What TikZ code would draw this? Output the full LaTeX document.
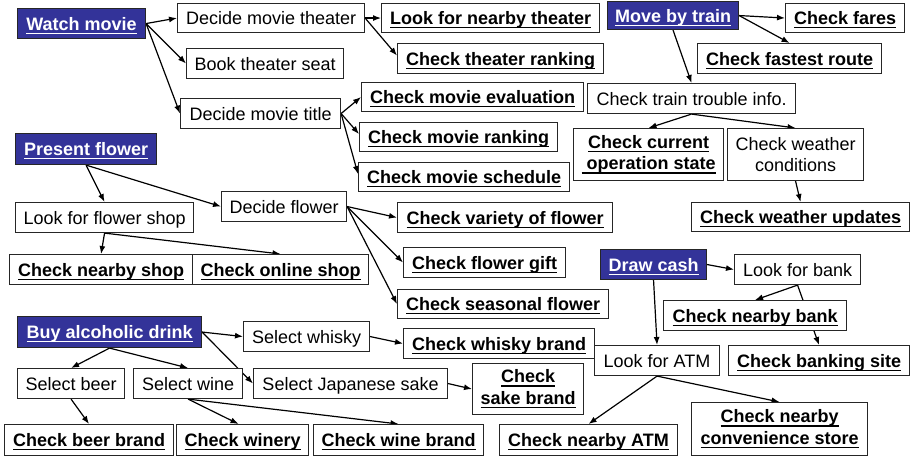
\documentclass[tikz,border=0pt]{standalone}
\usepackage{fontspec}
\setmainfont{Liberation Sans}
\usetikzlibrary{arrows.meta,backgrounds}
\definecolor{taskblue}{RGB}{51,51,153}

% underline with a fixed offset below the baseline
\newcommand\uln[1]{\setbox0=\hbox{#1}\rlap{\rule[-3.8pt]{\wd0}{1.3pt}}\box0}
% box placed by its top-left and bottom-right corners
\newcommand\bx[7]{\node[#1, minimum width={(#5)-(#3)}, minimum height={(#6)-(#4)}] (#2) at (#3,#4) {#7};}

\tikzset{
  base/.style={draw=black!85, line width=1.1pt, inner sep=0pt, anchor=north west,
               align=center, font=\fontsize{18}{21.5}\selectfont},
  one/.style={text height=15.5pt, text depth=2.5pt},
  plain/.style={base, fill=white},
  check/.style={base, fill=white, font=\fontsize{18}{21.5}\selectfont\bfseries},
  goal/.style={base, fill=taskblue, text=white, font=\fontsize{18}{21.5}\selectfont\bfseries},
  link/.style={line width=1.2pt, -{Latex[length=8pt,width=6pt]}},
}

\begin{document}
\begin{tikzpicture}[x=1pt, y=-1pt]
\useasboundingbox (0,0) rectangle (910,457);

% ---- watch movie
\bx{goal,one}{wm}{17}{8}{145}{38}{\uln{Watch movie}}
\bx{plain,one}{dmt}{177}{3}{364}{32}{Decide movie theater}
\bx{plain,one}{bts}{186}{48}{343}{78}{Book theater seat}
\bx{plain,one}{dmtl}{180}{98}{340}{128}{Decide movie title}
\bx{check,one}{lfnt}{381}{3}{599}{32}{\uln{Look for nearby theater}}
\bx{check,one}{ctr}{397}{43}{603}{73}{\uln{Check theater ranking}}
\bx{check,one}{cme}{361}{82}{583}{111}{\uln{Check movie evaluation}}
\bx{check,one}{cmr}{359}{122}{557}{151}{\uln{Check movie ranking}}
\bx{check,one}{cms}{358}{162}{569}{191}{\uln{Check movie schedule}}

% ---- present flower
\bx{goal,one}{pf}{15}{133}{156}{164}{\uln{Present flower}}
\bx{plain,one}{lffs}{15}{202}{193}{232}{Look for flower shop}
\bx{plain,one}{df}{221}{191}{346}{221}{Decide flower}
\bx{check,one}{cns}{9}{254}{192}{284}{\uln{Check nearby shop}}
\bx{check,one}{cos}{192}{254}{368}{284}{\uln{Check online shop}}
\bx{check,one}{cvf}{397}{202}{612}{232}{\uln{Check variety of flower}}
\bx{check,one}{cfg}{403}{247}{565}{277}{\uln{Check flower gift}}
\bx{check,one}{csf}{397}{289}{608}{318}{\uln{Check seasonal flower}}

% ---- move by train
\bx{goal,one}{mbt}{607}{1}{738}{29}{\uln{Move by train}}
\bx{check,one}{cf}{785}{3}{904}{32}{\uln{Check fares}}
\bx{check,one}{cfr}{697}{43}{881}{73}{\uln{Check fastest route}}
\bx{plain,one}{ctti}{587}{83}{795}{113}{Check train trouble info.}
\bx{check}{ccos}{573}{128}{723}{180}{\uln{Check current}\\\uln{\ operation state}}
\bx{plain}{cwc}{727}{128}{863}{180}{Check weather\\conditions}
\bx{check,one}{cwu}{691}{202}{909}{231}{\uln{Check weather updates}}

% ---- buy alcoholic drink
\bx{goal,one}{bad}{17}{316}{201}{347}{\uln{Buy alcoholic drink}}
\bx{plain,one}{sw}{243}{321}{369}{351}{Select whisky}
\bx{plain,one}{sb}{17}{368}{124}{398}{Select beer}
\bx{plain,one}{swn}{133}{368}{242}{398}{Select wine}
\bx{plain,one}{sjs}{253}{368}{447}{398}{Select Japanese sake}
\bx{check,one}{cbb}{4}{424}{173}{455}{\uln{Check beer brand}}
\bx{check,one}{cw}{176}{424}{308}{455}{\uln{Check winery}}
\bx{check,one}{cwb}{313}{424}{483}{455}{\uln{Check wine brand}}
\bx{check,one}{cwhb}{403}{328}{594}{358}{\uln{Check whisky brand}}
\bx{check}{csb}{472}{363}{583}{414}{\uln{Check}\\\uln{sake brand}}

% ---- draw cash
\bx{goal,one}{dc}{600}{249}{706}{279}{\uln{Draw cash}}
\bx{plain,one}{lfb}{734}{254}{860}{284}{Look for bank}
\bx{check,one}{cnb}{663}{300}{846}{330}{\uln{Check nearby bank}}
\bx{check,one}{cbs}{728}{345}{909}{375}{\uln{Check banking site}}
\bx{plain,one}{lfa}{594}{345}{719}{375}{Look for ATM}
\bx{check,one}{cna}{499}{424}{677}{455}{\uln{Check nearby ATM}}
\bx{check}{cncs}{691}{402}{867}{455}{\uln{Check nearby}\\\uln{convenience store}}

% ---- connectors, kept behind the boxes
\begin{scope}[on background layer]
  \draw[link] (wm.east) -- (dmt.west);
  \draw[link] (wm.east) -- (bts.west);
  \draw[link] (wm.east) -- (dmtl.west);
  \draw[link] (dmt.east) -- (lfnt.west);
  \draw[link] (dmt.east) -- ([yshift=3pt]ctr.west);
  \draw[link] (dmtl.east) -- (cme.west);
  \draw[link] (dmtl.east) -- ([yshift=3pt]cmr.west);
  \draw[link] (dmtl.east) -- ([yshift=3pt]cms.west);

  \draw[link] (pf.south) -- (lffs.north);
  \draw[link] (pf.south) -- (df.west);
  \draw[link] (lffs.south) -- (cns.north);
  \draw[link] (lffs.south) -- (cos.north);
  \draw[link] (df.east) -- (cvf.west);
  \draw[link] (df.east) -- (cfg.west);
  \draw[link] (df.east) -- (csf.west);

  \draw[link] (mbt.east) -- (cf.west);
  \draw[link] (mbt.east) -- (cfr.north);
  \draw[link] (mbt.south) -- (ctti.north);
  \draw[link] (ctti.south) -- (ccos.north);
  \draw[link] (ctti.south) -- (cwc.north);
  \draw[link] (cwc.south) -- (cwu.north);

  \draw[link] (bad.east) -- (sw.west);
  \draw[link] (bad.east) -- (sjs.west);
  \draw[link] (bad.south) -- (sb.north);
  \draw[link] (bad.south) -- (swn.north);
  \draw[link] (sb.south) -- (cbb.north);
  \draw[link] (swn.south) -- ([xshift=-4pt]cw.north);
  \draw[link] (swn.south) -- (cwb.north);
  \draw[link] (sw.east) -- (cwhb.west);
  \draw[link] (sjs.east) -- (csb.west);

  \draw[link] (dc.east) -- (lfb.west);
  \draw[link] (dc.south) -- (lfa.north);
  \draw[link] (lfb.south) -- (cnb.north);
  \draw[link] (lfb.south) -- (cbs.north);
  \draw[link] (lfa.south) -- (cna.north);
  \draw[link] (lfa.south) -- (cncs.north);
\end{scope}
\end{tikzpicture}
\end{document}
